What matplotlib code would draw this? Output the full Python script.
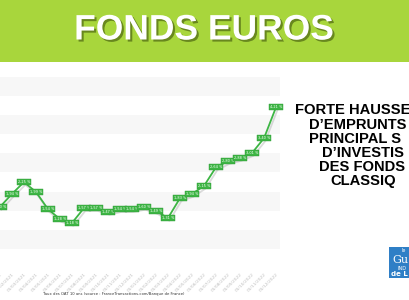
import matplotlib.pyplot as plt
import matplotlib.patheffects as pe
from matplotlib.patches import Rectangle

# data
dates = ['01/01/2021', '01/02/2021', '01/03/2021', '01/04/2021', '01/05/2021',
         '01/06/2021', '01/07/2021', '01/08/2021', '01/09/2021', '01/10/2021',
         '01/11/2021', '01/12/2021', '01/01/2022', '01/02/2022', '01/03/2022',
         '01/04/2022', '01/05/2022', '01/06/2022', '01/07/2022', '01/08/2022',
         '01/09/2022', '01/10/2022', '01/11/2022', '01/12/2022']
taux = [1.60, 1.94, 2.25, 1.99, 1.54, 1.28, 1.18, 1.57, 1.57, 1.47,
        1.54, 1.54, 1.60, 1.49, 1.31, 1.83, 1.94, 2.15, 2.64, 2.80,
        2.88, 3.01, 3.40, 4.21]
right_lines = ['FORTE HAUSSE', 'D\u2019EMPRUNTS', 'PRINCIPAL S',
               'D\u2019INVESTIS', 'DES FONDS', 'CLASSIQ']

W, H = 410, 300
green = '#a8d63c'
line_green = '#3db544'

fig = plt.figure(figsize=(4.1, 3.0), dpi=100)
fig.patch.set_facecolor('white')

# top banner
fig.patches.append(Rectangle((0, 1 - 62 / H), 1, 62 / H, transform=fig.transFigure,
                             facecolor=green, edgecolor='none', zorder=0))
fig.text(204 / W, 1 - 30 / H, 'FONDS EUROS', ha='center', va='center',
         fontsize=25.5, fontweight='bold', color='white', family='Liberation Sans',
         path_effects=[pe.withSimplePatchShadow(offset=(1.5, -1.5),
                                                shadow_rgbFace='#4d6612', alpha=0.7)])

# chart
ax = fig.add_axes([0, 32 / H, 280 / W, 191 / H])
x = list(range(len(taux)))
for lo in [0.5, 1.5, 2.5, 3.5, 4.5]:
    ax.axhspan(lo, lo + 0.5, color='#f7f7f7', lw=0, zorder=0)
ax.axhline(0, color='#e8e8e8', lw=0.6, zorder=0)

ax.plot(x, taux, color=line_green, lw=1.3, zorder=2,
        path_effects=[pe.SimpleLineShadow(offset=(1, -2), shadow_color='#999999', alpha=0.35),
                      pe.Normal()])
for xi, v in zip(x, taux):
    ax.text(xi, v, f'{v:.2f} %'.replace('.', ','), fontsize=2.5, color='white',
            ha='center', va='center', zorder=3,
            bbox=dict(boxstyle='square,pad=0.35', fc=line_green, ec='#2f9a36', lw=0.3))

ax.set_xlim(0.255, 23.33)
ax.set_ylim(0, 5)
ax.set_yticks([])
ax.set_xticks(x)
ax.set_xticklabels(dates, rotation=45, ha='right', rotation_mode='anchor',
                   fontsize=3.2, color='#bdbdbd')
ax.tick_params(axis='x', length=0, pad=3)
for s in ax.spines.values():
    s.set_visible(False)

fig.text(43 / W, 1 - 294 / H,
         'Taux des OAT 10 ans (source : FranceTransactions.com/Banque de France)',
         fontsize=2.7, color='#333333', va='center', ha='left')

# right hand text, cut by the frame
starts = [295, 309, 309, 322, 319, 330]
ys = [110, 125, 139, 153, 167, 181]
for t, sx, sy in zip(right_lines, starts, ys):
    fig.text(sx / W, 1 - sy / H, t, fontsize=10.6, fontweight='bold', color='black',
             family='Liberation Sans', ha='left', va='center')

# logo corner
fig.patches.append(Rectangle((389 / W, 1 - 278 / H), 21 / W, 31 / H,
                             transform=fig.transFigure, facecolor='#2f7fc6',
                             edgecolor='none'))
fig.text(402 / W, 1 - 251 / H, 'le', fontsize=3.5, color='white', ha='left', va='center')
fig.text(392 / W, 1 - 260 / H, 'Gu', fontsize=8, color='white', ha='left', va='center',
         family='DejaVu Serif')
fig.text(398 / W, 1 - 268 / H, 'IND', fontsize=3.5, color='white', ha='left', va='center')
fig.text(391 / W, 1 - 274 / H, 'de L', fontsize=5, color='white', ha='left', va='center',
         fontweight='bold')

fig.savefig('out.png', dpi=100)
